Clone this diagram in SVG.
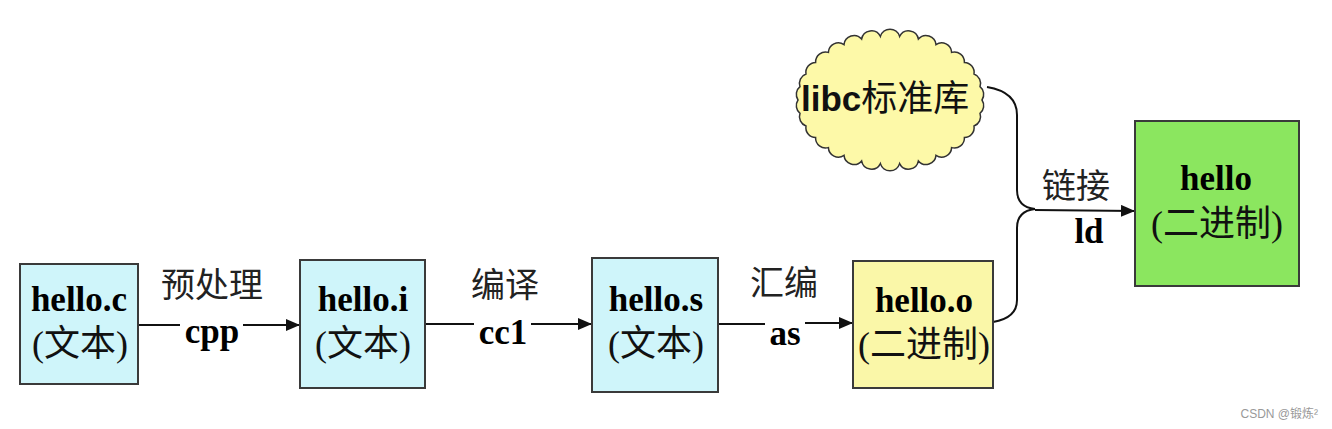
<svg xmlns="http://www.w3.org/2000/svg" width="1332" height="429" viewBox="0 0 1332 429">
<style>
.box{stroke:#3a3a3a;stroke-width:2}
.txt{fill:#000;font-family:"Liberation Serif","Noto Sans CJK SC",serif;font-weight:bold;font-size:35px;text-anchor:middle}
.cjk{fill:#111;font-family:"Liberation Serif","Noto Sans CJK SC",serif;font-weight:normal;font-size:36px;text-anchor:middle}
.lbl{fill:#222;font-family:"Noto Sans CJK SC",sans-serif;font-weight:normal;font-size:34px;text-anchor:middle}
.ln{stroke:#111;stroke-width:2;fill:none}
</style>
<defs>
<marker id="arr" viewBox="0 0 14 12" refX="14" refY="6" markerWidth="14" markerHeight="12" markerUnits="userSpaceOnUse" orient="auto">
<path d="M0,0 L14,6 L0,12 Z" fill="#111"/>
</marker>
</defs>
<rect width="1332" height="429" fill="#fff"/>
<g id="connectors">
<line class="ln" x1="138" y1="325" x2="180" y2="325"/>
<line class="ln" x1="243" y1="325" x2="300" y2="325" marker-end="url(#arr)"/>
<line class="ln" x1="425" y1="324" x2="474" y2="324"/>
<line class="ln" x1="531" y1="324" x2="592" y2="324" marker-end="url(#arr)"/>
<line class="ln" x1="718" y1="324" x2="765" y2="324"/>
<line class="ln" x1="805" y1="323" x2="853" y2="323" marker-end="url(#arr)"/>
<path class="ln" d="M987,87 Q1017,92 1017,115 L1017,190 Q1017,207 1035,209"/>
<path class="ln" d="M993,322 Q1017,318 1017,300 L1017,228 Q1017,211 1035,209"/>
<line class="ln" x1="1035" y1="210" x2="1135" y2="211" marker-end="url(#arr)"/>
<text class="lbl" x="212" y="297">预处理</text>
<text class="txt" x="212" y="343">cpp</text>
<text class="lbl" x="505" y="297">编译</text>
<text class="txt" x="503" y="344">cc1</text>
<text class="lbl" x="784" y="295">汇编</text>
<text class="txt" x="785" y="345">as</text>
<text class="lbl" x="1076" y="198">链接</text>
<text class="txt" x="1089" y="243">ld</text>
</g>
<g id="cloud">
<path d="M982,100 A10,10 0 0 1 980,113.3 A10,10 0 0 1 974,126 A10,10 0 0 1 964.4,137.6 A10,10 0 0 1 951.6,147.6 A10,10 0 0 1 936,155.4 A10,10 0 0 1 918.4,160.9 A10,10 0 0 1 899.6,163.6 A10,10 0 0 1 880.4,163.6 A10,10 0 0 1 861.6,160.9 A10,10 0 0 1 844,155.4 A10,10 0 0 1 828.4,147.6 A10,10 0 0 1 815.6,137.6 A10,10 0 0 1 806,126 A10,10 0 0 1 800,113.3 A10,10 0 0 1 798,100 A10,10 0 0 1 800,86.7 A10,10 0 0 1 806,74 A10,10 0 0 1 815.6,62.4 A10,10 0 0 1 828.4,52.4 A10,10 0 0 1 844,44.6 A10,10 0 0 1 861.6,39.1 A10,10 0 0 1 880.4,36.4 A10,10 0 0 1 899.6,36.4 A10,10 0 0 1 918.4,39.1 A10,10 0 0 1 936,44.6 A10,10 0 0 1 951.6,52.4 A10,10 0 0 1 964.4,62.4 A10,10 0 0 1 974,74 A10,10 0 0 1 980,86.7 A10,10 0 0 1 982,100 Z" fill="#fdf9a8" stroke="#333" stroke-width="1.5"/>
<text x="801" y="111" style="font-family:'Liberation Sans','Noto Sans CJK SC',sans-serif;font-size:35px;fill:#111"><tspan font-weight="bold">libc</tspan><tspan font-family="Noto Sans CJK SC" font-size="36px">标准库</tspan></text>
</g>
<g id="hello_c">
<rect class="box" x="20" y="264" width="118" height="120" fill="#cff5fa"/>
<text class="txt" x="79" y="311">hello.c</text>
<text class="cjk" x="80" y="356">(文本)</text>
</g>
<g id="hello_i">
<rect class="box" x="300" y="260" width="125" height="128" fill="#cff5fa"/>
<text class="txt" x="363" y="311">hello.i</text>
<text class="cjk" x="363" y="356">(文本)</text>
</g>
<g id="hello_s">
<rect class="box" x="592" y="258" width="126" height="134" fill="#cff5fa"/>
<text class="txt" x="656" y="311">hello.s</text>
<text class="cjk" x="656" y="356">(文本)</text>
</g>
<g id="hello_o">
<rect class="box" x="853" y="261" width="140" height="127" fill="#faf7a8"/>
<text class="txt" x="924" y="312">hello.o</text>
<text class="cjk" x="924" y="357">(二进制)</text>
</g>
<g id="hello">
<rect class="box" x="1135" y="121" width="164" height="165" fill="#8be65f"/>
<text class="txt" x="1216" y="190">hello</text>
<text class="cjk" x="1217" y="236">(二进制)</text>
</g>
<text x="1318" y="418" style="font-family:'Liberation Sans','Noto Sans CJK SC',sans-serif;font-size:12px;fill:#999;text-anchor:end">CSDN @锻炼²</text>
</svg>
